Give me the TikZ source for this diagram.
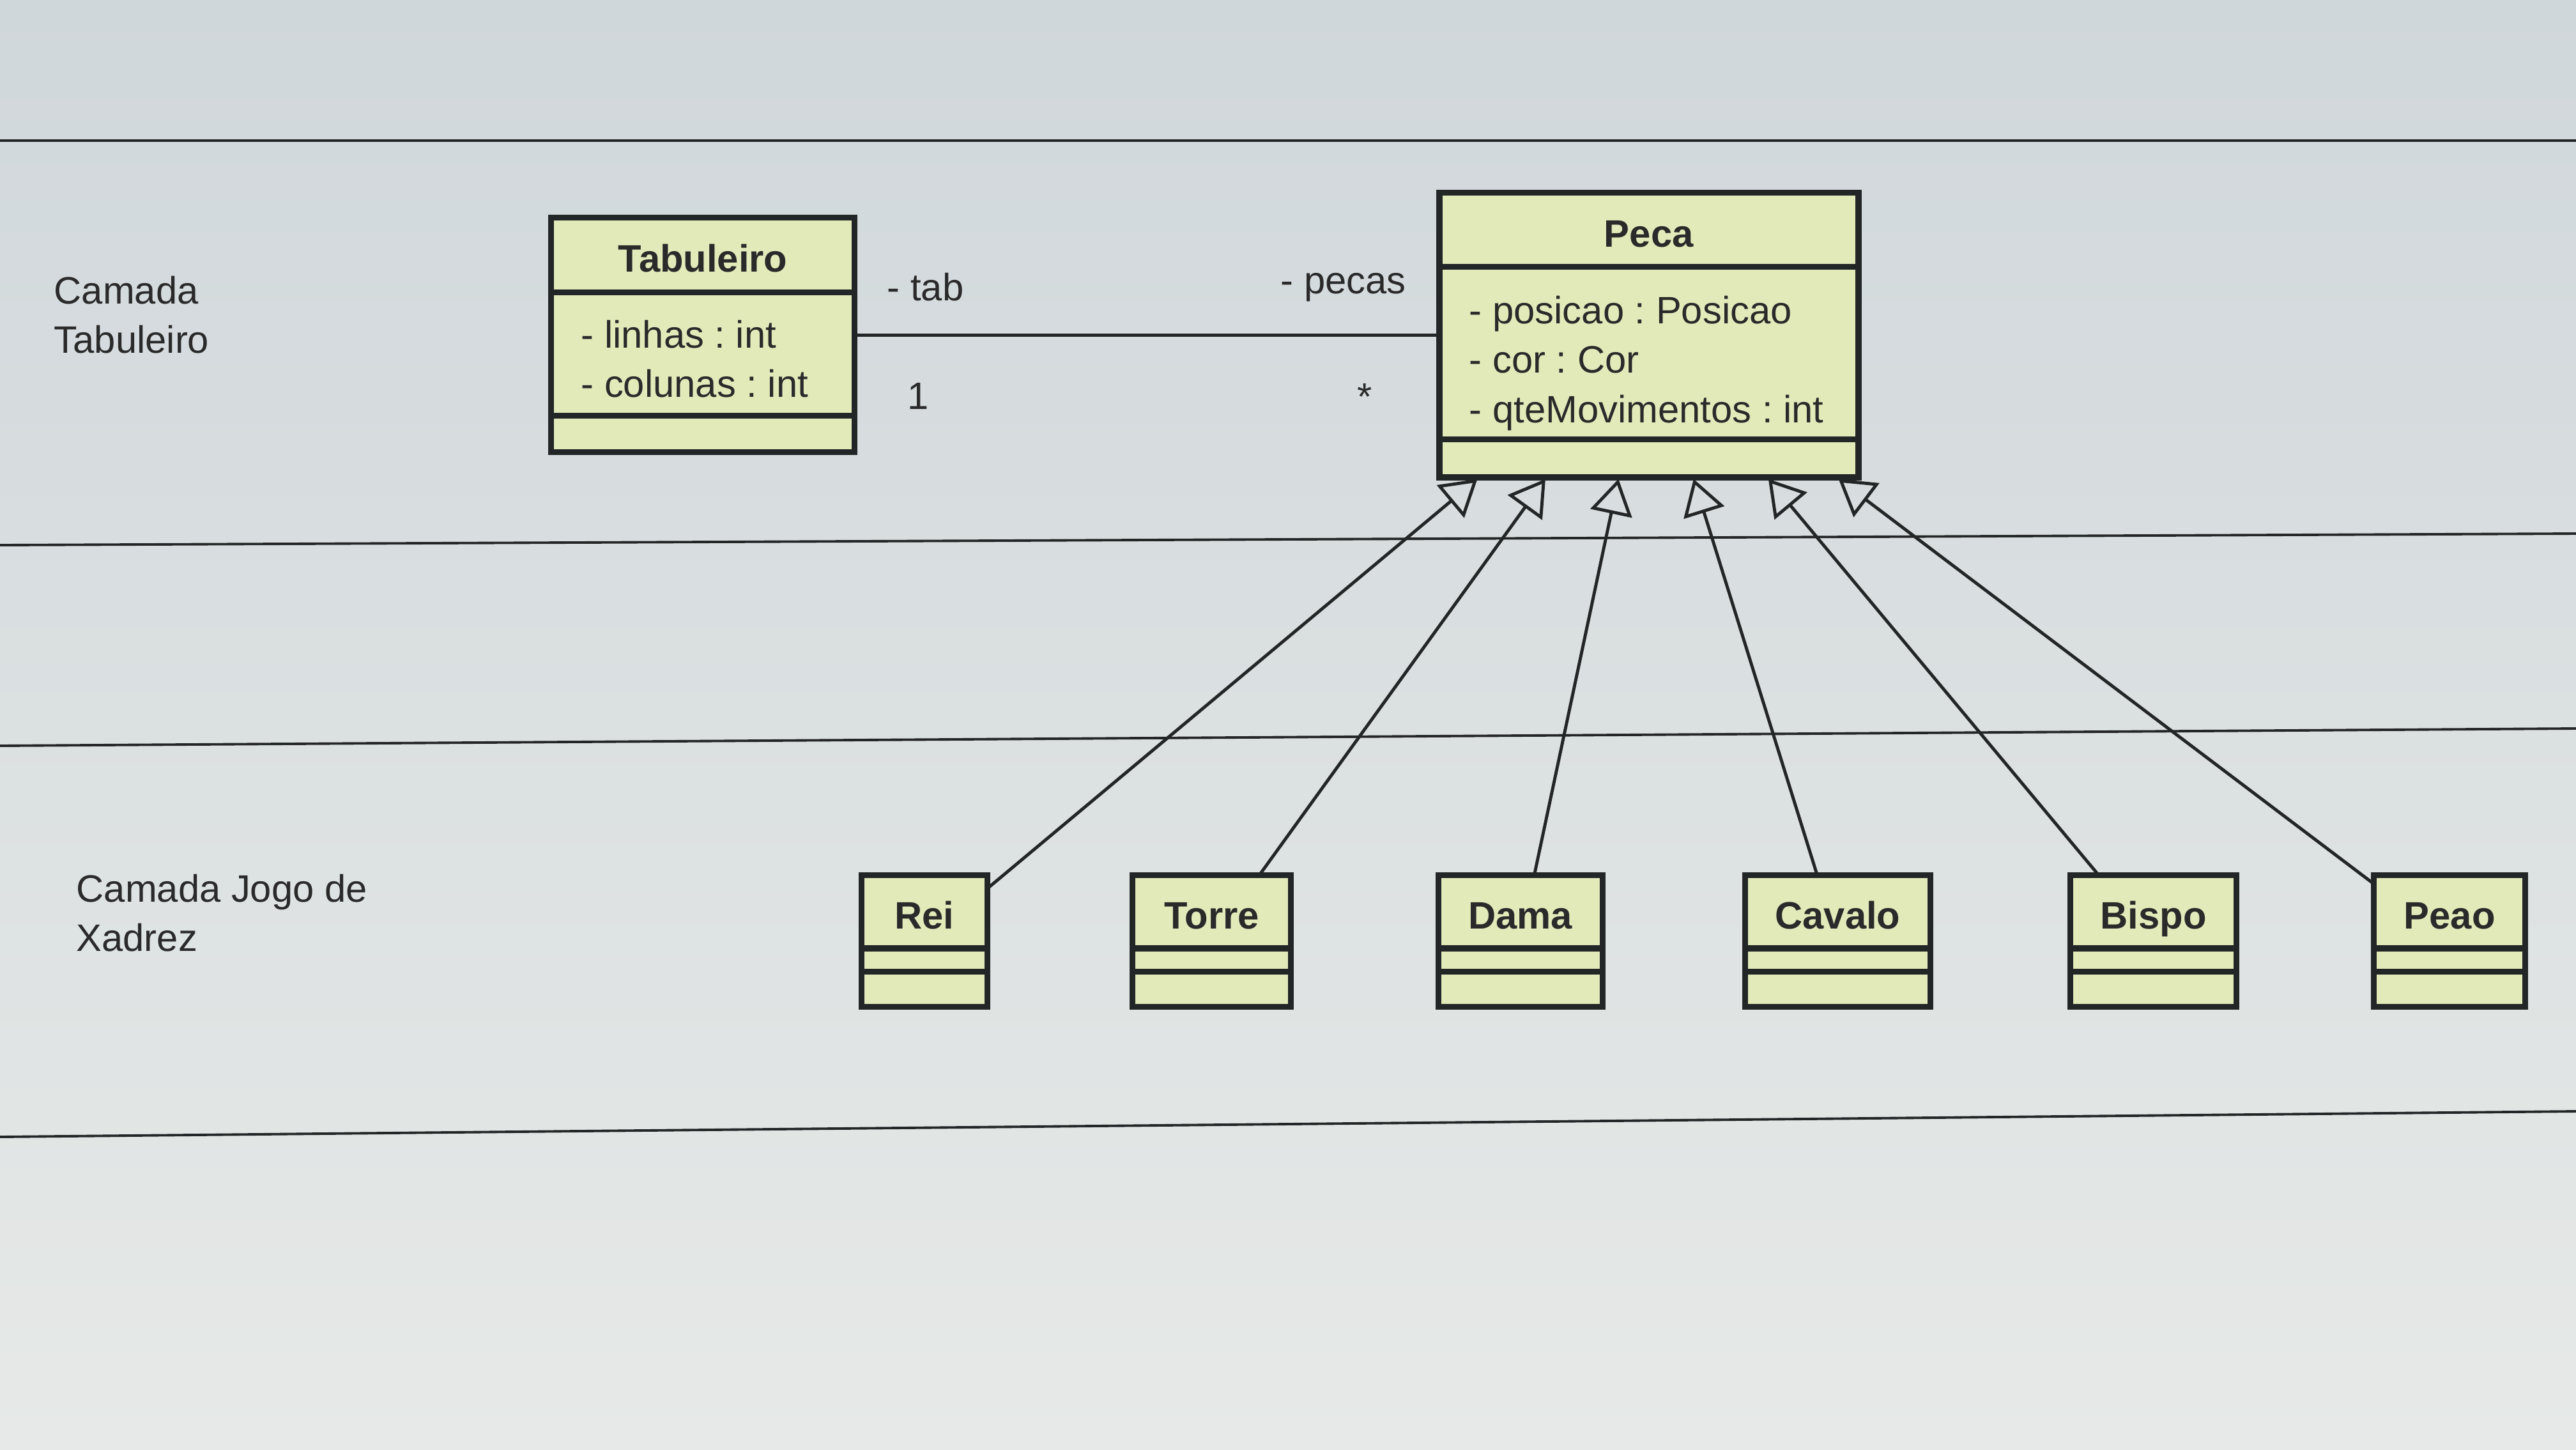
\documentclass[tikz,border=0pt]{standalone}
\usepackage{fontspec}
\setmainfont{Liberation Sans}
\usetikzlibrary{arrows.meta, positioning, shapes.multipart}

\definecolor{fundoalto}{RGB}{208,215,219}
\definecolor{fundobaixo}{RGB}{230,233,231}
\definecolor{caixa}{RGB}{226,234,186}
\definecolor{traco}{RGB}{35,38,38}
\definecolor{texto}{RGB}{42,42,42}
\frenchspacing

\begin{document}
\begin{tikzpicture}[font=\fontsize{17}{22}\selectfont, text=texto,
        classe/.style={rectangle split, rectangle split parts=3,
            rectangle split part align={center,left,left}, align=left,
            draw=traco, line width=1.5pt, fill=caixa, inner xsep=0.47cm, inner ysep=0pt,
            postaction={draw=traco, line width=2.6pt}},
        herda/.style={-{Triangle[open, length=0.55cm, width=0.66cm]}, draw=traco, line width=1.4pt},
        assoc/.style={draw=traco, line width=1.4pt},
        rotulo/.style={inner sep=0pt},
        camada/.style={draw=traco, line width=1.1pt}]
                \shade[top color=fundoalto, bottom color=fundobaixo] (0,0) rectangle (40.32,-22.68);
                \useasboundingbox (0,0) rectangle (40.32,-22.68);
                % camadas
                \draw[camada] (0,-2.20) -- (40.32,-2.20);
                \draw[camada] (0,-8.53) -- (40.32,-8.35);
                \draw[camada] (0,-11.67) -- (40.32,-11.40);
                \draw[camada] (0,-17.79) -- (40.32,-17.39);
                \node[rotulo, align=left, anchor=north west] (camtab) at (0.84,-4.31) {Camada\\Tabuleiro};
                \node[rotulo, align=left, anchor=north west] (camjogo) at (1.19,-13.67) {Camada Jogo de\\Xadrez};
                % classes
                \node[classe, anchor=north west, minimum width=4.75cm] (tabuleiro) at (8.60,-3.38)
                    {\rule[-0.3cm]{0pt}{1.12cm}\textbf{Tabuleiro}
                    \nodepart{two}\rule{0pt}{0.84cm}- linhas : int\\- colunas : int\rule[-0.26cm]{0pt}{0.26cm}
                    \nodepart{three}\rule{0pt}{0.52cm}};
                \node[classe, right=9.10cm of tabuleiro, minimum width=6.56cm] (peca)
                    {\rule[-0.29cm]{0pt}{1.11cm}\textbf{Peca}
                    \nodepart{two}\rule{0pt}{0.86cm}- posicao : Posicao\\- cor : Cor\\- qteMovimentos : int\rule[-0.24cm]{0pt}{0.24cm}
                    \nodepart{three}\rule{0pt}{0.54cm}};
                \node[classe, anchor=north, minimum width=1.97cm] (rei) at (14.47,-13.67)
                    {\rule[-0.28cm]{0pt}{1.09cm}\textbf{Rei}\nodepart{two}\rule{0pt}{0.31cm}\nodepart{three}\rule{0pt}{0.50cm}};
                \node[classe, right=2.22cm of rei, minimum width=2.48cm] (torre)
                    {\rule[-0.28cm]{0pt}{1.09cm}\textbf{Torre}\nodepart{two}\rule{0pt}{0.31cm}\nodepart{three}\rule{0pt}{0.50cm}};
                \node[classe, right=2.25cm of torre, minimum width=2.54cm] (dama)
                    {\rule[-0.28cm]{0pt}{1.09cm}\textbf{Dama}\nodepart{two}\rule{0pt}{0.31cm}\nodepart{three}\rule{0pt}{0.50cm}};
                \node[classe, right=2.18cm of dama, minimum width=2.75cm] (cavalo)
                    {\rule[-0.28cm]{0pt}{1.09cm}\textbf{Cavalo}\nodepart{two}\rule{0pt}{0.31cm}\nodepart{three}\rule{0pt}{0.50cm}};
                \node[classe, right=2.14cm of cavalo, minimum width=2.55cm] (bispo)
                    {\rule[-0.28cm]{0pt}{1.09cm}\textbf{Bispo}\nodepart{two}\rule{0pt}{0.31cm}\nodepart{three}\rule{0pt}{0.50cm}};
                \node[classe, right=2.10cm of bispo, minimum width=2.29cm] (peao)
                    {\rule[-0.28cm]{0pt}{1.09cm}\textbf{Peao}\nodepart{two}\rule{0pt}{0.31cm}\nodepart{three}\rule{0pt}{0.50cm}};
                % associacao
                \draw[assoc] (tabuleiro) -- (tabuleiro -| peca.west)
                    node (tab) [rotulo, pos=0, anchor=base west, shift={(0.46,0.54)}] {- tab}
                    node (um) [rotulo, pos=0, anchor=base west, shift={(0.78,-1.16)}] {1}
                    node (pecas) [rotulo, pos=1, anchor=base east, shift={(-0.47,0.65)}] {- pecas}
                    node (muitos) [rotulo, pos=1, anchor=base east, shift={(-1.0,-1.17)}] {*};
                % heranca
                \path[herda]
                (rei) edge (peca)
                (torre) edge (peca)
                (dama) edge (peca)
                (cavalo) edge (peca)
                (bispo) edge (peca)
                (peao) edge (peca);
        \end{tikzpicture}
\end{document}
